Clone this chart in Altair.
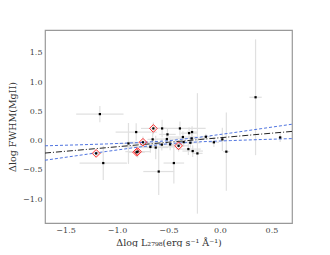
import altair as alt
import pandas as pd

# data points (Δlog L2798, Δlog FWHM) with symmetric errors
xs = [-1.167, -1.203, -1.134, -0.889, -0.814, -0.80, -0.81, -0.748, -0.647, -0.654,
      -0.676, -0.624, -0.595, -0.562, -0.565, -0.51, -0.516, -0.484, -0.448, -0.402,
      -0.389, -0.36, -0.353, -0.30, -0.271, -0.307, -0.288, -0.265, -0.275, -0.219,
      -0.137, -0.059, 0.023, 0.062, 0.346, 0.585]
ys = [0.452, -0.22, -0.385, -0.05, 0.145, -0.19, -0.20, -0.03, 0.207, 0.02,
      -0.11, -0.12, -0.53, 0.207, -0.07, 0.105, 0.025, -0.066, -0.385, -0.09,
      0.207, 0.06, -0.026, 0.127, 0.145, -0.146, -0.038, -0.18, 0.036, -0.22,
      0.065, -0.03, 0.02, -0.19, 0.74, 0.053]
xerr = [0.23, 0.05, 0.23, 0.10, 0.20, 0.12, 0.08, 0.15, 0.12, 0.05,
        0.25, 0.12, 0.15, 0.05, 0.20, 0.08, 0.10, 0.10, 0.10, 0.10,
        0.25, 0.15, 0.10, 0.08, 0.05, 0.12, 0.10, 0.10, 0.15, 0.05,
        0.05, 0.05, 0.02, 0.03, 0.06, 0.02]
yerr = [0.14, 0.05, 0.29, 0.35, 0.15, 0.10, 0.08, 0.10, 0.10, 0.12,
        0.10, 0.20, 0.40, 0.15, 0.10, 0.10, 0.10, 0.10, 0.35, 0.10,
        0.12, 0.10, 0.08, 0.10, 0.10, 0.10, 0.08, 0.10, 0.10, 1.03,
        0.05, 0.08, 0.20, 0.67, 0.99, 0.08]
flagged = [0, 1, 0, 0, 0, 1, 1, 1, 1, 0,
           0, 0, 0, 0, 0, 0, 0, 0, 0, 1,
           0, 0, 0, 0, 0, 0, 0, 0, 0, 0,
           0, 0, 0, 0, 0, 0]

# regression line and confidence band
line_x = [-1.7, -1.4, -1.1, -0.8, -0.5, -0.2, 0.1, 0.4, 0.7]
fit_y = [-0.214, -0.168, -0.122, -0.075, -0.029, 0.017, 0.063, 0.110, 0.156]
upper_y = [-0.09, -0.075, -0.058, -0.036, -0.004, 0.056, 0.127, 0.203, 0.279]
lower_y = [-0.337, -0.261, -0.186, -0.114, -0.054, -0.022, -0.001, 0.017, 0.033]

df = pd.DataFrame({"x": xs, "y": ys, "xe": xerr, "ye": yerr, "flag": flagged})
df["xlo"] = df.x - df.xe
df["xhi"] = df.x + df.xe
df["ylo"] = df.y - df.ye
df["yhi"] = df.y + df.ye

lines = pd.DataFrame({"lx": line_x, "fit": fit_y, "up": upper_y, "lo": lower_y})

xdom = [-1.7, 0.7]
ydom = [-1.41, 1.89]
xs_ = alt.Scale(domain=xdom, nice=False, zero=False)
ys_ = alt.Scale(domain=ydom, nice=False, zero=False)

font = "DejaVu Serif"
xax = alt.Axis(values=[-1.5, -1.0, -0.5, 0.0, 0.5], format=".1f", grid=False, ticks=False,
               domain=False, labelFont=font, labelFontSize=8, labelColor="#444444",
               labelOverlap=False, labelPadding=3, title="Δlog L₂₇₉₈(erg s⁻¹ Å⁻¹)", titleFont=font,
               titleFontSize=9.5, titleFontWeight="normal", titleColor="#333333", titlePadding=3)
yax = alt.Axis(values=[-1.0, -0.5, 0.0, 0.5, 1.0, 1.5], format=".1f", grid=False, ticks=False,
               domain=False, labelFont=font, labelFontSize=8, labelColor="#444444",
               labelOverlap=False, labelPadding=3, title="Δlog FWHM(MgII)", titleFont=font,
               titleFontSize=9.5, titleFontWeight="normal", titleColor="#333333", titlePadding=5)


def X(f):
    return alt.X(f, type="quantitative", scale=xs_, axis=xax)


def Y(f):
    return alt.Y(f, type="quantitative", scale=ys_, axis=yax)


base = alt.Chart(df)

xbars = base.mark_rule(color="#e0e0e0", strokeWidth=1.2).encode(
    x=X("xlo"), x2="xhi:Q", y=Y("y"))
ybars = base.mark_rule(color="#e0e0e0", strokeWidth=1.2).encode(
    x=X("x"), y=Y("ylo"), y2="yhi:Q")

fitline = alt.Chart(lines).mark_line(color="#222222", strokeWidth=1, strokeDash=[6, 2, 1, 2]).encode(
    x=X("lx"), y=Y("fit"))
upline = alt.Chart(lines).mark_line(color="#4f74e0", strokeWidth=1, strokeDash=[3, 2]).encode(
    x=X("lx"), y=Y("up"))
loline = alt.Chart(lines).mark_line(color="#4f74e0", strokeWidth=1, strokeDash=[3, 2]).encode(
    x=X("lx"), y=Y("lo"))

diamonds = base.transform_filter("datum.flag == 1").mark_point(
    shape="diamond", filled=False, color="#ff3030", size=60, strokeWidth=1.0, opacity=1).encode(
    x=X("x"), y=Y("y"))
pts = base.mark_square(color="black", size=5, opacity=1).encode(x=X("x"), y=Y("y"))

chart = alt.layer(xbars, ybars, fitline, upline, loline, diamonds, pts).properties(
    width=247, height=193,
    autosize=alt.AutoSizeParams(type="none"),
    padding={"left": 37, "top": 22, "right": 30, "bottom": 24},
).configure_view(stroke="#999999", strokeWidth=1.2)

chart.save("out.html", embed_options={"renderer": "svg", "actions": False})
